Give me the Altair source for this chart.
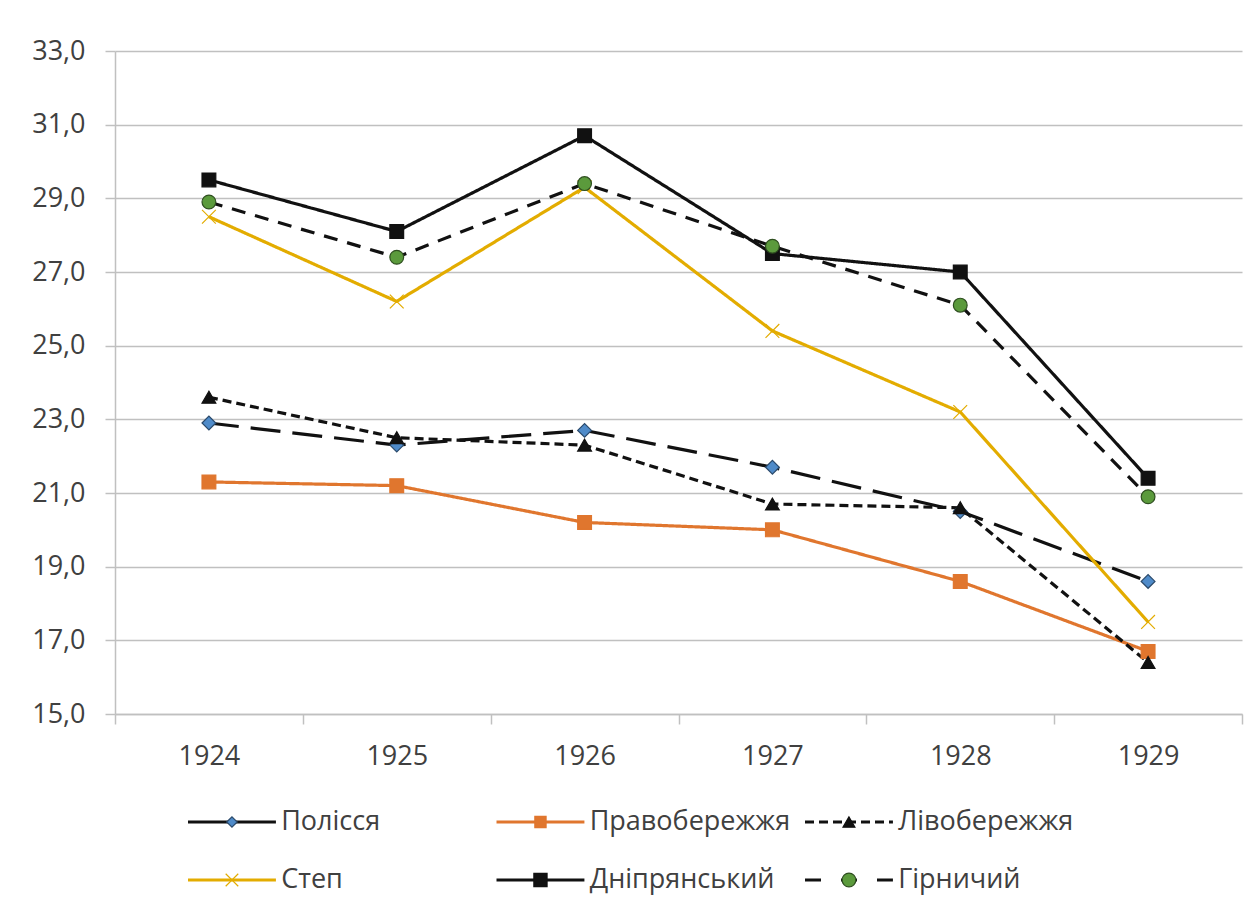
import altair as alt
import pandas as pd

# ---------------- data ----------------
years = ["1924", "1925", "1926", "1927", "1928", "1929"]
series = ["Полісся", "Правобережжя", "Лівобережжя", "Степ", "Дніпрянський", "Гірничий"]

polissia = [22.9, 22.3, 22.7, 21.7, 20.5, 18.6]
pravoberezhzhia = [21.3, 21.2, 20.2, 20.0, 18.6, 16.7]
livoberezhzhia = [23.6, 22.5, 22.3, 20.7, 20.6, 16.4]
step = [28.5, 26.2, 29.3, 25.4, 23.2, 17.5]
dniprianskyi = [29.5, 28.1, 30.7, 27.5, 27.0, 21.4]
hirnychyi = [28.9, 27.4, 29.4, 27.7, 26.1, 20.9]

y_ticks = [15, 17, 19, 21, 23, 25, 27, 29, 31, 33]

legend_cols = [0, 1, 2, 0, 1, 2]
legend_rows = [0, 0, 0, 1, 1, 1]

# ---------------- styles ----------------
FONT = "Open Sans"
TEXT = "#404040"
GRID = "#c0c0c0"

line_colors = ["#111111", "#E0762E", "#111111", "#E3AC00", "#111111", "#111111"]
line_dashes = [[30, 12], [1, 0], [9, 5], [1, 0], [1, 0], [14, 10]]
legend_dashes = [[1, 0], [1, 0], [9, 5], [1, 0], [1, 0], [16, 20]]
marker_fill = ["#4F8BC9", "#E0762E", "#111111", "transparent", "#111111", "#5B9A3C"]
marker_stroke = ["#2B4A6B", "#E0762E", "#111111", "#E3AC00", "#111111", "#2F4F20"]
marker_shape = ["diamond", "square", "triangle-up", "M-1,-1L1,1M1,-1L-1,1", "square", "circle"]
marker_size = [190, 190, 190, 330, 270, 170]
legend_marker_size = [110, 190, 120, 330, 210, 110]

values = [polissia, pravoberezhzhia, livoberezhzhia, step, dniprianskyi, hirnychyi]
rows = []
for s, vals in zip(series, values):
    for yr, v in zip(years, vals):
        rows.append({"series": s, "year": yr, "value": v})
df = pd.DataFrame(rows)

leg = pd.DataFrame({"series": series, "col": legend_cols, "row": legend_rows})
leg["x0"] = leg["col"]
leg["x1"] = leg["col"] + 0.285
leg["xm"] = leg["col"] + 0.1425
leg["xt"] = leg["col"] + 0.302

sc_color = alt.Scale(domain=series, range=line_colors)
sc_fill = alt.Scale(domain=series, range=marker_fill)
sc_stroke = alt.Scale(domain=series, range=marker_stroke)
sc_shape = alt.Scale(domain=series, range=marker_shape)

x_enc = alt.X(
    "year:O",
    scale=alt.Scale(type="band", paddingInner=0, paddingOuter=0, domain=years),
    bandPosition=0.5,
    axis=alt.Axis(
        title=None, tickBand="extent", tickSize=10, labelPadding=19,
        labelAngle=0, grid=False,
    ),
)
y_enc = alt.Y(
    "value:Q",
    scale=alt.Scale(domain=[15, 33], nice=False, zero=False),
    axis=alt.Axis(
        title=None, values=y_ticks, tickSize=10, labelPadding=20,
        labelExpr="replace(format(datum.value, '.1f'), '.', ',')",
        grid=True,
    ),
)

base = alt.Chart(df)
lines = base.mark_line(strokeWidth=3.2, strokeJoin="round").encode(
    x=x_enc,
    y=y_enc,
    color=alt.Color("series:N", scale=sc_color, legend=None),
    strokeDash=alt.StrokeDash("series:N", scale=alt.Scale(domain=series, range=line_dashes), legend=None),
    detail="series:N",
)
points = base.mark_point(filled=True, opacity=1, strokeWidth=1.2).encode(
    x=x_enc,
    y=y_enc,
    fill=alt.Fill("series:N", scale=sc_fill, legend=None),
    stroke=alt.Stroke("series:N", scale=sc_stroke, legend=None),
    shape=alt.Shape("series:N", scale=sc_shape, legend=None),
    size=alt.Size("series:N", scale=alt.Scale(domain=series, range=marker_size), legend=None),
)
main = alt.layer(lines, points)

lx_scale = alt.Scale(domain=[0, 3], range=[73, 998.5])
ly_scale = alt.Scale(domain=[0, 1], range=[771, 829])
lbase = alt.Chart(leg)
leg_lines = lbase.mark_rule(strokeWidth=3.2).encode(
    x=alt.X("x0:Q", scale=lx_scale, axis=None),
    x2="x1:Q",
    y=alt.Y("row:Q", scale=ly_scale, axis=None),
    color=alt.Color("series:N", scale=sc_color, legend=None),
    strokeDash=alt.StrokeDash("series:N", scale=alt.Scale(domain=series, range=legend_dashes), legend=None),
)
leg_points = lbase.mark_point(filled=True, opacity=1, strokeWidth=1.2).encode(
    x=alt.X("xm:Q", scale=lx_scale, axis=None),
    y=alt.Y("row:Q", scale=ly_scale, axis=None),
    fill=alt.Fill("series:N", scale=sc_fill, legend=None),
    stroke=alt.Stroke("series:N", scale=sc_stroke, legend=None),
    shape=alt.Shape("series:N", scale=sc_shape, legend=None),
    size=alt.Size("series:N", scale=alt.Scale(domain=series, range=legend_marker_size), legend=None),
)
leg_text = lbase.mark_text(align="left", baseline="middle", fontSize=27, font=FONT, color=TEXT).encode(
    x=alt.X("xt:Q", scale=lx_scale, axis=None),
    y=alt.Y("row:Q", scale=ly_scale, axis=None),
    text="series:N",
)
legend = alt.layer(leg_lines, leg_points, leg_text)

chart = (
    alt.layer(main, legend)
    .resolve_scale(x="independent", y="independent", size="independent", strokeDash="independent")
    .properties(
        width=1127,
        height=663,
        padding={"left": 107, "top": 43, "right": 6, "bottom": 188},
        autosize=alt.AutoSizeParams(type="none"),
        background="white",
    )
    .configure_view(stroke=None)
    .configure_axis(
        labelFont=FONT, labelFontSize=27, labelColor=TEXT,
        domainColor=GRID, domainWidth=1.5, tickColor=GRID, tickWidth=1.5,
        gridColor=GRID, gridWidth=1.5,
    )
)

chart.save("out.html", embed_options={"renderer": "svg", "actions": False})
